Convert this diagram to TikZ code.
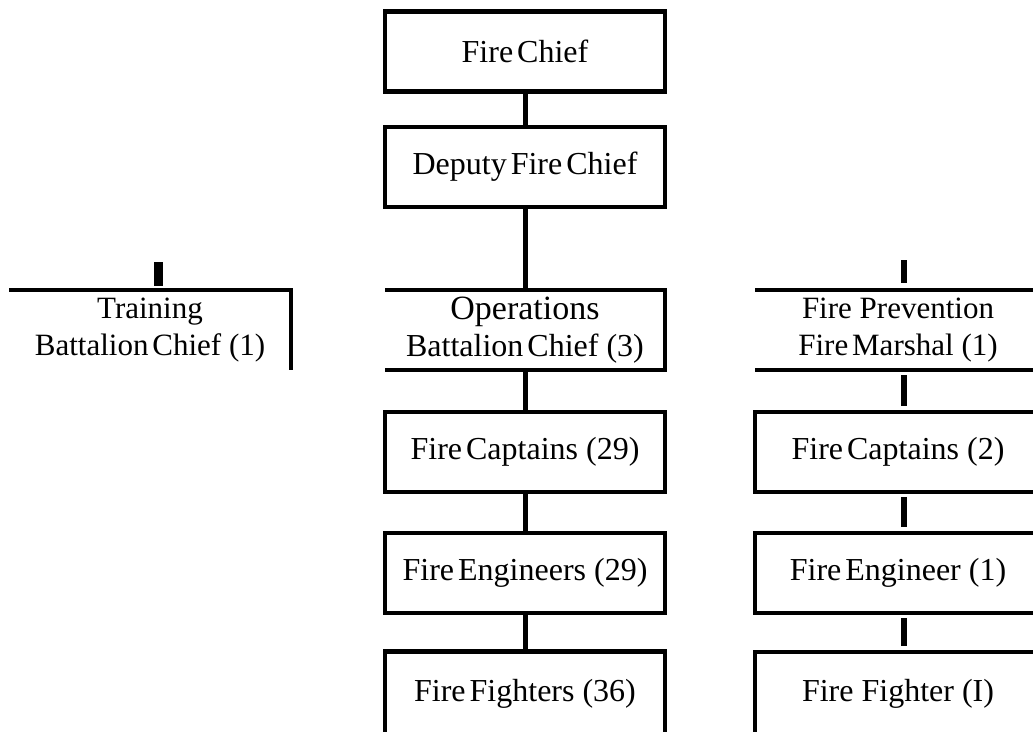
\documentclass[tikz,border=0pt]{standalone}
\usepackage{fontspec}
\setmainfont{Liberation Serif}[WordSpace=0.5]
\usepackage{xcolor}
\usepackage{tikz}
\usetikzlibrary{positioning,calc}
\definecolor{OrgInk}{HTML}{000000}
% full word space where the chart keeps one
\newcommand{\wsp}{\hspace{0.25em}}

\begin{document}
\begin{tikzpicture}[x=1pt,y=-1pt]
  \tikzset{
    orgnode/.style={
      inner sep=0pt,
      outer sep=0pt,
      align=center,
      font=\fontsize{32}{37}\selectfont,
      text=OrgInk
    },
    orgbox/.style={
      orgnode,
      draw=OrgInk,
      line width=4.5pt,
      minimum width=280pt,
      minimum height=80pt
    },
    orgopen/.style={orgnode,minimum height=80pt},
    orgside/.style={orgopen,font=\fontsize{31}{37}\selectfont},
    orgrule/.style={draw=OrgInk,line width=4.5pt},
    orglink/.style={draw=OrgInk,line width=5pt},
    orgstub/.style={draw=OrgInk,line width=6.5pt}
  }

  \clip (0,0) rectangle (1033,731);

  % ------------------------------------------------------------------
  % Centre column: chief down to the operations crews
  % ------------------------------------------------------------------
  \node[orgbox] (chief) at (525,51.5) {Fire Chief};
  \node[orgbox] (deputy) at (525,167) {Deputy Fire Chief};

  \node[orgopen,minimum width=280pt] (ops) at (525,330)
    {\fontsize{34}{37}\selectfont Operations\\
     \fontsize{32}{37}\selectfont Battalion Chief\wsp(3)};
  \draw[orgrule] (ops.north west) -- (ops.north east)
    -- (ops.south east) -- (ops.south west);

  \node[orgbox] (cap29) at (525,452) {Fire Captains\wsp(29)};
  \node[orgbox] (eng29) at (525,573) {Fire Engineers\wsp(29)};

  \node[orgopen,minimum width=280pt,minimum height=84pt] (ff36) at (525,693.5)
    {Fire Fighters\wsp(36)};
  \draw[orgrule] (ff36.south west) -- (ff36.north west)
    -- (ff36.north east) -- (ff36.south east);

  \draw[orglink] (chief.south) -- (deputy.north);
  \draw[orglink] (deputy.south) -- (ops.north);
  \draw[orglink] (ops.south) -- (cap29.north);
  \draw[orglink] (cap29.south) -- (eng29.north);
  \draw[orglink] (eng29.south) -- (ff36.north);

  % ------------------------------------------------------------------
  % Left: training
  % ------------------------------------------------------------------
  \node[orgside,minimum width=282pt] (train) at (150,330)
    {Training\\Battalion Chief\wsp(1)};
  \draw[orgrule] (train.north west) -- (train.north east) -- (train.south east);

  \coordinate (trainstub) at (158.5,262);
  \draw[orgstub,line width=8.5pt,shorten >=4.5pt] (trainstub) -- (trainstub |- train.north);

  % ------------------------------------------------------------------
  % Right column: fire prevention
  % ------------------------------------------------------------------
  \node[orgside,minimum width=286pt] (prev) at (898,330)
    {Fire\wsp Prevention\\Fire Marshal\wsp(1)};
  \draw[orgrule] (prev.north west) -- (prev.north east);
  \draw[orgrule] (prev.south west) -- (prev.south east);

  \node[orgopen,minimum width=286pt] (cap2) at (898,452) {Fire Captains\wsp(2)};
  \draw[orgrule] (cap2.north east) -- (cap2.north west)
    -- (cap2.south west) -- (cap2.south east);

  \node[orgopen,minimum width=286pt] (eng1) at (898,573) {Fire Engineer\wsp(1)};
  \draw[orgrule] (eng1.north east) -- (eng1.north west)
    -- (eng1.south west) -- (eng1.south east);

  \node[orgopen,minimum width=286pt,minimum height=84pt] (ff1) at (898,694)
    {Fire\wsp Fighter\wsp(I)};
  \draw[orgrule] (ff1.north east) -- (ff1.north west) -- (ff1.south west);

  \coordinate (prevstub) at (904,260);
  \draw[orgstub,shorten >=7pt] (prevstub) -- (prevstub |- prev.north);

  \draw[orgstub,shorten <=5pt,shorten >=6pt] ([xshift=6pt]prev.south) -- ([xshift=6pt]cap2.north);
  \draw[orgstub,shorten <=5pt,shorten >=6pt] ([xshift=6pt]cap2.south) -- ([xshift=6pt]eng1.north);
  \draw[orgstub,shorten <=5pt,shorten >=6pt] ([xshift=6pt]eng1.south) -- ([xshift=6pt]ff1.north);
\end{tikzpicture}
\end{document}
